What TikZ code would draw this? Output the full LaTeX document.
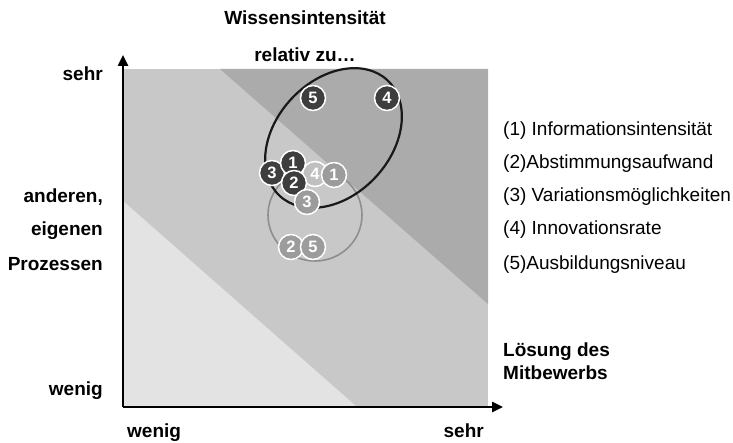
\documentclass[tikz,border=0pt]{standalone}
\usepackage{fontspec}
\setmainfont{Liberation Sans}
\usetikzlibrary{arrows.meta}
\definecolor{bandD}{HTML}{ABABAB}
\definecolor{bandM}{HTML}{C8C8C8}
\definecolor{bandL}{HTML}{E3E3E3}
\definecolor{dkfill}{HTML}{3E3E3E}
\definecolor{grfill}{HTML}{9C9C9C}
\definecolor{ltfill}{HTML}{C0C0C0}
\definecolor{grline}{HTML}{8E8E8E}
\begin{document}
\begin{tikzpicture}[x=1pt,y=-1pt,
  lab/.style={font=\fontsize{19pt}{21pt}\selectfont\bfseries, inner sep=0pt},
  leg/.style={font=\fontsize{19pt}{21pt}\selectfont, inner sep=0pt, anchor=base west},
  num/.style={circle, draw=white, line width=1.5pt, text=white, minimum size=25pt, inner sep=0pt, font=\fontsize{16.5pt}{16.5pt}\selectfont\bfseries},
  dk/.style={num, fill=dkfill},
  gr/.style={num, fill=grfill},
  lt/.style={num, fill=ltfill},
  axis/.style={line width=2.4pt, -{Triangle[length=11pt,width=10pt]}}]
\useasboundingbox (0,0) rectangle (733,443);
% background bands
\fill[bandM] (123,69) rectangle (488,407);
\fill[bandD] (220,69) -- (488,69) -- (488,304) -- cycle;
\fill[bandL] (123,201) -- (123,407) -- (357,407) -- cycle;
% ellipses
\coordinate (cA) at (333.5,138);
\coordinate (cB) at (315,215);
\draw[grline, line width=1.6pt] (cB) ellipse [x radius=47pt, y radius=46pt];
\draw[black!90, line width=2.2pt, rotate around={47:(cA)}] (cA) ellipse [x radius=79pt, y radius=57.5pt];
% numbered circles
\node[dk] (d5) at (313,98) {5};
\node[dk] (d4) at (387,98) {4};
\node[lt] (g4) at (315,174) {4};
\node[gr] (g1) at (334,175) {1};
\node[dk] (d3) at (272,173) {3};
\node[dk] (d1) at (293,163) {1};
\node[dk] (d2) at (294,183) {2};
\node[gr] (g3) at (307,202) {3};
\node[gr] (g2) at (291,247) {2};
\node[gr] (g5) at (313,247) {5};
% axes
\coordinate (O) at (123,407);
\coordinate (ytop) at (123,55);
\coordinate (xend) at (503,407);
\draw[axis] (O) -- (ytop);
\draw[axis] (O) -- (xend);
% titles
\node[lab, anchor=base] (t1) at (305,25) {Wissensintensität};
\node[lab, anchor=base] (t2) at (305,62) {relativ zu…};
% left labels
\node[lab, anchor=base east] (ysehr) at (103,81) {sehr};
\node[lab, anchor=base east] (l1) at (103,203) {anderen,};
\node[lab, anchor=base east] (l2) at (103,236) {eigenen};
\node[lab, anchor=base east] (l3) at (103,271) {Prozessen};
\node[lab, anchor=base east] (ywenig) at (103,395) {wenig};
% bottom labels
\node[lab, anchor=base west] (xwenig) at (127,437) {wenig};
\node[lab, anchor=base east] (xsehr) at (484,437) {sehr};
\node[lab, anchor=base west] (r1) at (503,356) {Lösung des};
\node[lab, anchor=base west] (r2) at (503,379) {Mitbewerbs};
% legend
\node[leg] (k1) at (503,136) {(1) Informationsintensität};
\node[leg] (k2) at (503,169) {(2)Abstimmungsaufwand};
\node[leg] (k3) at (503,202) {(3) Variationsmöglichkeiten};
\node[leg] (k4) at (503,235) {(4) Innovationsrate};
\node[leg] (k5) at (503,270) {(5)Ausbildungsniveau};
\end{tikzpicture}
\end{document}
